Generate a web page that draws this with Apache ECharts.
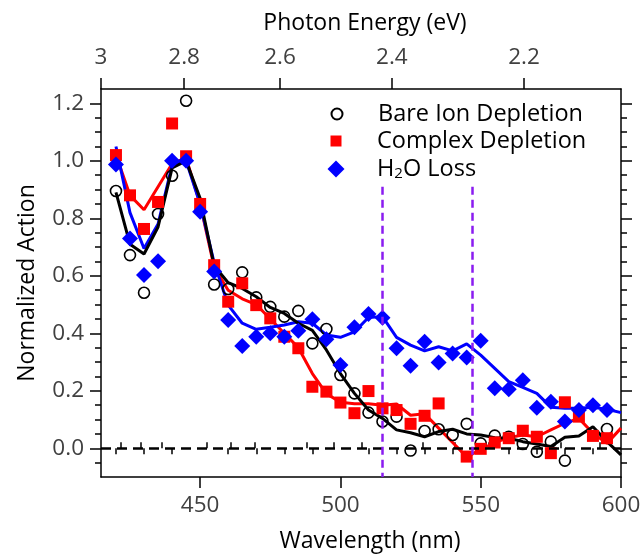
<!DOCTYPE html>
<html>
<head>
<meta charset="utf-8">
<script src="https://cdn.jsdelivr.net/npm/echarts@6/dist/echarts.min.js"></script>
<style>
  html, body { margin: 0; padding: 0; background: #fff; }
  #chart { width: 642px; height: 554px; }
</style>
</head>
<body>
<div id="chart"></div>
<script>
// wavelength grid (nm), 5 nm steps
const wavelengths = [420, 425, 430, 435, 440, 445, 450, 455, 460, 465, 470, 475, 480, 485, 490, 495, 500, 505, 510, 515,
  520, 525, 530, 535, 540, 545, 550, 555, 560, 565, 570, 575, 580, 585, 590, 595, 600]

// measured points
const bareIon = [0.895, 0.672, 0.541, 0.815, 0.948, 1.209, null, 0.57, 0.554, 0.612, 0.525, 0.492, 0.458, 0.478, 0.365, 0.415, 0.255, 0.191, 0.124, 0.093,
  0.11, -0.008, 0.06, 0.066, 0.046, 0.085, 0.017, 0.044, 0.04, 0.015, -0.012, 0.023, -0.043, null, null, 0.067, null]
const complexDep = [1.02, 0.88, 0.763, 0.857, 1.13, 1.016, 0.85, 0.637, 0.51, 0.574, 0.498, 0.452, 0.388, 0.348, 0.214, 0.197, 0.159, 0.122, 0.199, 0.139,
  0.133, 0.085, 0.113, 0.156, null, -0.029, -0.002, 0.02, 0.035, 0.061, 0.04, -0.017, 0.16, 0.11, 0.043, 0.035, null]
const waterLoss = [0.987, 0.73, 0.603, 0.651, 1.0, 1.0, 0.823, 0.615, 0.446, 0.356, 0.388, 0.40, 0.388, 0.409, 0.449, 0.379, 0.29, 0.421, 0.467, 0.454,
  0.348, 0.287, 0.371, 0.298, 0.33, 0.316, 0.374, 0.209, 0.205, 0.237, 0.141, 0.162, 0.093, 0.133, 0.15, 0.133, null]

// smoothed traces
const bareIonFit = [0.89, 0.71, 0.676, 0.77, 0.975, 1.0, 0.87, 0.635, 0.576, 0.556, 0.527, 0.49, 0.469, 0.435, 0.41, 0.342, 0.26, 0.191, 0.133, 0.104,
  0.064, 0.054, 0.04, 0.058, 0.066, 0.05, 0.046, 0.037, 0.035, 0.023, 0.015, 0.006, 0.038, 0.043, 0.075, 0.023, -0.023]
const complexFit = [1.02, 0.88, 0.83, 0.91, 0.99, 1.01, 0.85, 0.63, 0.55, 0.52, 0.50, 0.45, 0.40, 0.35, 0.26, 0.19, 0.16, 0.155, 0.155, 0.15,
  0.154, 0.115, 0.12, 0.07, 0.02, -0.03, -0.005, 0.02, 0.037, 0.046, 0.04, 0.064, 0.087, 0.104, 0.052, 0.017, 0.07]
const waterFit = [1.05, 0.82, 0.695, 0.78, 0.985, 1.0, 0.85, 0.645, 0.498, 0.435, 0.414, 0.421, 0.429, 0.44, 0.435, 0.394, 0.386, 0.405, 0.455, 0.458,
  0.386, 0.359, 0.339, 0.353, 0.339, 0.363, 0.324, 0.278, 0.232, 0.212, 0.191, 0.143, 0.139, 0.139, 0.143, 0.136, 0.124]

// axis ticks
const xMajor = [450, 500, 550, 600]
const xMinor = [420, 430, 440, 460, 470, 480, 490, 510, 520, 530, 540, 560, 570, 580, 590]
const yMajor = [0, 0.2, 0.4, 0.6, 0.8, 1.0, 1.2]
const yMinor = [-0.05, 0.05, 0.1, 0.15, 0.25, 0.3, 0.35, 0.45, 0.5, 0.55, 0.65, 0.7, 0.75, 0.85, 0.9, 0.95, 1.05, 1.1, 1.15]
const eMajor = [3, 2.8, 2.6, 2.4, 2.2]
const eMinor = [2.95, 2.9, 2.85, 2.75, 2.7, 2.65, 2.55, 2.5, 2.45, 2.35, 2.3, 2.25, 2.15, 2.1]
const markerLines = [515, 547]
const markerTop = 0.91

const K = 1244 // eV*nm used by the energy scale
const X_MIN = K / 3
const X_MAX = 600
const Y_MIN = -0.1
const Y_MAX = 1.25

const FONT = '"Open Sans", "Noto Sans", sans-serif'
const TICK_COLOR = '#000'
const LABEL_COLOR = '#404040'
const LABEL_SIZE = 22.5

const pairs = arr => wavelengths.map((w, i) => [w, arr[i]]).filter(p => p[1] != null)

function xAxisOf(pos, ticks, len, labels, extra) {
  return Object.assign({
    type: 'value', position: pos, min: X_MIN, max: X_MAX,
    axisLine: { show: true, onZero: false, lineStyle: { color: TICK_COLOR, width: 1.5 } },
    axisTick: { show: true, inside: false, length: len, customValues: ticks, lineStyle: { color: TICK_COLOR, width: 1.5 } },
    axisLabel: labels ? Object.assign({ customValues: ticks, fontSize: LABEL_SIZE, fontFamily: FONT, color: LABEL_COLOR }, labels) : { show: false },
    splitLine: { show: false },
  }, extra || {})
}

function yAxisOf(pos, ticks, len, labels, extra) {
  return Object.assign({
    type: 'value', position: pos, min: Y_MIN, max: Y_MAX,
    axisLine: { show: true, onZero: false, lineStyle: { color: TICK_COLOR, width: 1.5 } },
    axisTick: { show: true, inside: false, length: len, customValues: ticks, lineStyle: { color: TICK_COLOR, width: 1.5 } },
    axisLabel: labels ? Object.assign({ customValues: ticks, fontSize: LABEL_SIZE, fontFamily: FONT, color: LABEL_COLOR }, labels) : { show: false },
    splitLine: { show: false },
  }, extra || {})
}

// one legend block per row so each icon keeps its own size
const legendRows = [
  { name: 'Bare Ion Depletion', size: 11, center: 113 },
  { name: 'Complex Depletion', size: 11, center: 140 },
  { name: 'H2O Loss', size: 17, center: 168 },
]
const legends = legendRows.map(r => ({
  orient: 'vertical', left: 336 - r.size / 2, top: r.center - 11, padding: 0,
  itemWidth: r.size, itemHeight: r.size,
  data: [r.name],
  formatter: name => name === 'H2O Loss' ? 'H{sub|2}O Loss' : name,
  textStyle: {
    fontSize: 23.5, fontFamily: FONT, color: '#000', lineHeight: 24, padding: [0, 0, 0, 36 - r.size / 2],
    rich: { sub: { fontSize: 15, fontFamily: FONT, color: '#000', padding: [10, 0, 0, 0] } },
  },
}))

const chart = echarts.init(document.getElementById('chart'), null, { renderer: 'canvas' })

chart.setOption({
  animation: false,
  backgroundColor: '#fff',
  grid: { left: 101, right: 21, top: 89, bottom: 77, outerBoundsMode: 'none', containLabel: false },
  legend: legends,
  xAxis: [
    xAxisOf('bottom', xMajor, 11, { margin: 17 }, {
      name: 'Wavelength (nm)', nameLocation: 'middle', nameGap: 53,
      nameTextStyle: { fontSize: 23, fontFamily: FONT, color: '#000', padding: [0, 0, 0, 18] },
    }),
    xAxisOf('bottom', xMinor, 6, null, { axisLine: { show: false } }),
    xAxisOf('top', eMajor.map(e => K / e), 11, {
      margin: 20, formatter: v => String(parseFloat((K / v).toFixed(2))),
    }, {
      name: 'Photon Energy (eV)', nameLocation: 'middle', nameGap: 54,
      nameTextStyle: { fontSize: 23, fontFamily: FONT, color: '#000', padding: [0, 0, 0, 8] },
    }),
    xAxisOf('top', eMinor.map(e => K / e), 6, null, { axisLine: { show: false } }),
  ],
  yAxis: [
    yAxisOf('left', yMajor, 11, { margin: 17, formatter: v => v.toFixed(1) }, {
      name: 'Normalized Action', nameLocation: 'middle', nameGap: 62, nameRotate: 90,
      nameTextStyle: { fontSize: 23, fontFamily: FONT, color: '#000' },
    }),
    yAxisOf('left', yMinor, 6, null, { axisLine: { show: false } }),
    yAxisOf('right', yMajor, 11, null),
    yAxisOf('right', yMinor, 6, null, { axisLine: { show: false } }),
  ],
  series: [
    {
      name: 'Complex fit', type: 'line', data: pairs(complexFit), symbol: 'none',
      lineStyle: { color: '#ff0000', width: 3 }, itemStyle: { color: '#ff0000' }, z: 2,
      markLine: {
        silent: true, symbol: 'none', label: { show: false },
        data: [
          { yAxis: 0, lineStyle: { color: '#000', width: 2.5, type: [10, 6] } },
          ...markerLines.map(w => [
            { coord: [w, markerTop], lineStyle: { color: '#8a1cf0', width: 2.5, type: [8, 5] } },
            { coord: [w, Y_MIN] },
          ]),
        ],
      },
    },
    {
      name: 'Water fit', type: 'line', data: pairs(waterFit), symbol: 'none',
      lineStyle: { color: '#0000ff', width: 3 }, itemStyle: { color: '#0000ff' }, z: 2,
    },
    {
      name: 'Bare fit', type: 'line', data: pairs(bareIonFit), symbol: 'none',
      lineStyle: { color: '#000', width: 3 }, itemStyle: { color: '#000' }, z: 2,
    },
    {
      name: 'Bare Ion Depletion', type: 'scatter', data: pairs(bareIon), symbol: 'circle', symbolSize: 11,
      itemStyle: { color: 'rgba(255,255,255,0)', borderColor: '#000', borderWidth: 1.6, opacity: 1 }, z: 3,
    },
    {
      name: 'Complex Depletion', type: 'scatter', data: pairs(complexDep), symbol: 'rect', symbolSize: 12,
      itemStyle: { color: '#ff0000', opacity: 1 }, z: 3,
    },
    {
      name: 'H2O Loss', type: 'scatter', data: pairs(waterLoss), symbol: 'diamond', symbolSize: 16,
      itemStyle: { color: '#0000ff', opacity: 1 }, z: 3,
    },
  ],
})
</script>
</body>
</html>
